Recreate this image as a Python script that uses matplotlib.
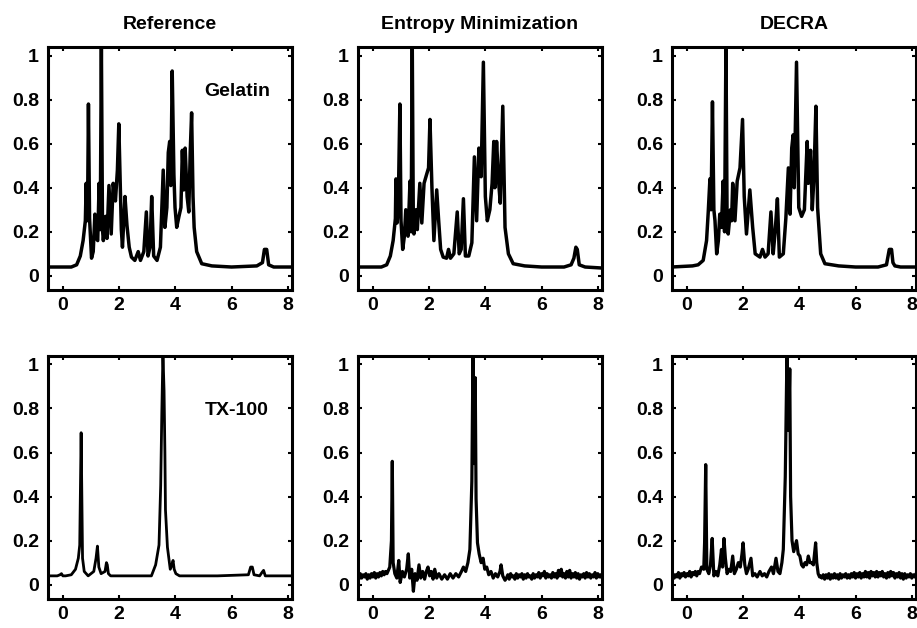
import matplotlib
matplotlib.use("Agg")
import matplotlib.pyplot as plt

plt.rcParams['font.family'] = ['Liberation Sans', 'DejaVu Sans']
plt.rcParams['font.weight'] = 'bold'

titulos = ['Reference', 'Entropy Minimization', 'DECRA']
etiquetas_fila = ['Gelatin', 'TX-100']
etiqueta_y = [0.835, 0.79]

# Gelatina - espectro de referencia (ppm, intensidad)
gel_ref_x = [-0.55, 0.30, 0.49, 0.62, 0.72, 0.80, 0.83, 0.86, 0.88, 0.91, 0.95, 1.02, 1.08, 1.14,
             1.19, 1.24, 1.29, 1.33, 1.37, 1.41, 1.44, 1.52, 1.57, 1.64, 1.72, 1.79, 1.87, 1.94,
             1.99, 2.05, 2.08, 2.12, 2.21, 2.28, 2.36, 2.44, 2.56, 2.68, 2.76, 2.88, 2.97, 3.03,
             3.10, 3.16, 3.23, 3.35, 3.47, 3.57, 3.63, 3.70, 3.75, 3.80, 3.84, 3.89, 3.95, 3.99,
             4.05, 4.13, 4.20, 4.25, 4.30, 4.35, 4.42, 4.48, 4.53, 4.58, 4.63, 4.67, 4.76, 4.94,
             5.30, 6.00, 6.90, 7.10, 7.17, 7.25, 7.32, 7.50, 8.20]
gel_ref_y = [0.04, 0.04, 0.05, 0.09, 0.16, 0.25, 0.42, 0.25, 0.31, 0.78, 0.26, 0.08, 0.11, 0.28,
             0.17, 0.16, 0.42, 0.21, 1.05, 0.21, 0.16, 0.27, 0.17, 0.41, 0.19, 0.42, 0.34, 0.48,
             0.69, 0.37, 0.21, 0.13, 0.36, 0.23, 0.13, 0.085, 0.07, 0.11, 0.07, 0.11, 0.29, 0.09,
             0.13, 0.36, 0.09, 0.07, 0.13, 0.48, 0.22, 0.31, 0.56, 0.61, 0.41, 0.93, 0.46, 0.31,
             0.22, 0.27, 0.31, 0.57, 0.39, 0.58, 0.36, 0.29, 0.56, 0.74, 0.36, 0.22, 0.11, 0.055,
             0.045, 0.04, 0.045, 0.06, 0.12, 0.12, 0.05, 0.04, 0.04]

# Gelatina - minimizacion de entropia
gel_em_x = [-0.55, 0.30, 0.49, 0.62, 0.72, 0.80, 0.82, 0.86, 0.90, 0.96, 1.00, 1.06, 1.12, 1.17,
            1.25, 1.32, 1.36, 1.40, 1.44, 1.46, 1.53, 1.58, 1.67, 1.74, 1.82, 1.91, 1.98, 2.03,
            2.10, 2.17, 2.27, 2.34, 2.41, 2.50, 2.62, 2.69, 2.76, 2.88, 3.00, 3.07, 3.14, 3.22,
            3.29, 3.41, 3.52, 3.61, 3.69, 3.77, 3.85, 3.93, 4.00, 4.07, 4.16, 4.24, 4.30, 4.34,
            4.40, 4.47, 4.53, 4.62, 4.70, 4.82, 4.99, 5.40, 6.00, 6.80, 7.05, 7.15, 7.22, 7.27,
            7.34, 7.55, 8.20]
gel_em_y = [0.04, 0.04, 0.05, 0.09, 0.16, 0.26, 0.44, 0.24, 0.30, 0.78, 0.25, 0.12, 0.18, 0.30,
            0.18, 0.43, 0.20, 1.05, 0.20, 0.19, 0.30, 0.21, 0.42, 0.24, 0.42, 0.46, 0.49, 0.71,
            0.40, 0.16, 0.39, 0.25, 0.12, 0.085, 0.08, 0.12, 0.08, 0.10, 0.29, 0.10, 0.12, 0.35,
            0.09, 0.09, 0.15, 0.54, 0.25, 0.58, 0.45, 0.97, 0.36, 0.25, 0.30, 0.42, 0.61, 0.40,
            0.61, 0.43, 0.33, 0.77, 0.22, 0.10, 0.055, 0.045, 0.04, 0.04, 0.05, 0.08, 0.13, 0.12,
            0.05, 0.04, 0.035]

# Gelatina - DECRA
gel_dec_x = [-0.55, 0.20, 0.40, 0.58, 0.70, 0.76, 0.82, 0.86, 0.91, 0.96, 1.00, 1.06, 1.12, 1.17,
             1.23, 1.29, 1.34, 1.39, 1.43, 1.47, 1.55, 1.59, 1.63, 1.71, 1.79, 1.89, 1.98, 2.04,
             2.12, 2.24, 2.34, 2.43, 2.60, 2.69, 2.78, 2.89, 2.99, 3.07, 3.14, 3.22, 3.29, 3.43,
             3.52, 3.61, 3.67, 3.73, 3.78, 3.82, 3.90, 3.98, 4.08, 4.18, 4.28, 4.32, 4.40, 4.46,
             4.52, 4.59, 4.65, 4.76, 4.91, 5.40, 6.00, 6.80, 7.10, 7.20, 7.28, 7.33, 7.40, 7.60, 8.20]
gel_dec_y = [0.04, 0.045, 0.05, 0.07, 0.16, 0.29, 0.44, 0.30, 0.79, 0.30, 0.25, 0.10, 0.16, 0.28,
             0.22, 0.43, 0.20, 1.05, 0.26, 0.19, 0.30, 0.25, 0.42, 0.25, 0.43, 0.49, 0.71, 0.36,
             0.19, 0.39, 0.22, 0.10, 0.085, 0.12, 0.085, 0.10, 0.29, 0.10, 0.20, 0.35, 0.085, 0.10,
             0.26, 0.49, 0.28, 0.58, 0.64, 0.40, 0.97, 0.31, 0.27, 0.30, 0.61, 0.42, 0.57, 0.30,
             0.45, 0.77, 0.31, 0.10, 0.055, 0.045, 0.04, 0.04, 0.05, 0.12, 0.12, 0.06, 0.045, 0.04, 0.04]

# TX-100 - espectro de referencia
tx_ref_x = [-0.55, -0.20, -0.10, -0.05, 0.00, 0.10, 0.30, 0.45, 0.55, 0.60, 0.65, 0.70, 0.76,
            0.90, 1.10, 1.18, 1.23, 1.28, 1.36, 1.50, 1.55, 1.58, 1.62, 1.70, 2.20, 3.15, 3.30,
            3.42, 3.48, 3.52, 3.56, 3.60, 3.63, 3.65, 3.72, 3.82, 3.88, 3.92, 3.96, 4.02, 4.15,
            4.40, 5.50, 6.60, 6.68, 6.74, 6.80, 7.00, 7.08, 7.14, 7.20, 8.20]
tx_ref_y = [0.04, 0.04, 0.045, 0.05, 0.04, 0.04, 0.045, 0.07, 0.12, 0.18, 0.69, 0.12, 0.06,
            0.04, 0.06, 0.12, 0.175, 0.08, 0.05, 0.06, 0.10, 0.09, 0.05, 0.04, 0.04, 0.04, 0.09,
            0.18, 0.45, 0.78, 1.05, 0.88, 0.60, 0.34, 0.17, 0.07, 0.09, 0.11, 0.07, 0.05, 0.04,
            0.04, 0.04, 0.045, 0.08, 0.08, 0.045, 0.04, 0.055, 0.065, 0.04, 0.04]

# TX-100 - minimizacion de entropia
tx_em_x = [-0.55, -0.50, -0.45, -0.40, -0.35, -0.30, -0.25, -0.20, -0.15, -0.10, -0.05, 0.00,
           0.05, 0.10, 0.15, 0.20, 0.25, 0.30, 0.35, 0.40, 0.45, 0.50, 0.55, 0.60,
           0.66, 0.69, 0.72, 0.78, 0.85, 0.92, 0.97, 1.05, 1.12, 1.20, 1.26, 1.31, 1.38, 1.44,
           1.50, 1.57, 1.64, 1.70, 1.77, 1.84, 1.90, 1.96, 2.02, 2.08, 2.14, 2.20, 2.27, 2.35,
           2.45, 2.55, 2.65, 2.75, 2.85, 2.95, 3.05, 3.15, 3.22, 3.30, 3.38, 3.45, 3.52, 3.56,
           3.60, 3.64, 3.67, 3.72, 3.78, 3.85, 3.92, 3.98, 4.05, 4.12, 4.20, 4.28, 4.36, 4.44,
           4.52, 4.56, 4.62, 4.70,
           4.75, 4.80, 4.85, 4.90, 4.95, 5.00, 5.05, 5.10, 5.15, 5.20,
           5.25, 5.30, 5.35, 5.40, 5.45, 5.50, 5.55, 5.60, 5.65, 5.70,
           5.75, 5.80, 5.85, 5.90, 5.95, 6.00, 6.05, 6.10, 6.15, 6.20,
           6.25, 6.30, 6.35, 6.40, 6.45, 6.50, 6.55, 6.60, 6.65, 6.70,
           6.75, 6.80, 6.85, 6.90, 6.95, 7.00, 7.05, 7.10, 7.15, 7.20,
           7.25, 7.30, 7.35, 7.40, 7.45, 7.50, 7.55, 7.60, 7.65, 7.70,
           7.75, 7.80, 7.85, 7.90, 7.95, 8.00, 8.05, 8.10, 8.15, 8.20]
tx_em_y = [0.04, 0.025, 0.05, 0.03, 0.045, 0.035, 0.05, 0.025, 0.045, 0.03, 0.05, 0.035,
           0.055, 0.03, 0.05, 0.035, 0.055, 0.04, 0.06, 0.045, 0.06, 0.05, 0.065, 0.08,
           0.20, 0.56, 0.10, 0.05, 0.03, 0.11, 0.01, 0.06, 0.035, 0.07, 0.14, 0.03, 0.07, -0.03,
           0.05, 0.02, 0.09, 0.03, 0.06, 0.025, 0.06, 0.08, 0.04, 0.06, 0.025, 0.07, 0.03, 0.05,
           0.025, 0.045, 0.025, 0.05, 0.03, 0.05, 0.035, 0.06, 0.08, 0.06, 0.10, 0.16, 0.47, 1.05,
           0.55, 0.94, 0.39, 0.19, 0.14, 0.10, 0.12, 0.07, 0.08, 0.045, 0.06, 0.03, 0.05, 0.035,
           0.06, 0.09, 0.04, 0.02,
           0.03, 0.045, 0.025, 0.05, 0.035, 0.04, 0.025, 0.05, 0.03, 0.045,
           0.035, 0.05, 0.025, 0.045, 0.03, 0.05, 0.035, 0.04, 0.025, 0.05,
           0.03, 0.045, 0.035, 0.055, 0.03, 0.05, 0.04, 0.06, 0.03, 0.05,
           0.035, 0.045, 0.03, 0.055, 0.035, 0.05, 0.03, 0.065, 0.04, 0.07,
           0.035, 0.05, 0.03, 0.06, 0.035, 0.065, 0.03, 0.05, 0.035, 0.055,
           0.03, 0.05, 0.025, 0.045, 0.035, 0.05, 0.03, 0.055, 0.035, 0.05,
           0.03, 0.045, 0.035, 0.055, 0.03, 0.05, 0.035, 0.045, 0.03, 0.04]

# TX-100 - DECRA
tx_dec_x = [-0.55, -0.50, -0.45, -0.40, -0.35, -0.30, -0.25, -0.20, -0.15, -0.10, -0.05, 0.00,
            0.05, 0.10, 0.15, 0.20, 0.25, 0.30, 0.35, 0.40, 0.45, 0.52, 0.60,
            0.63, 0.67, 0.71, 0.78, 0.84, 0.90, 0.96, 1.03, 1.10, 1.17, 1.23, 1.27, 1.32, 1.37,
            1.43, 1.50, 1.56, 1.63, 1.69, 1.76, 1.83, 1.90, 1.96, 2.00, 2.06, 2.12, 2.18, 2.28,
            2.34, 2.42, 2.50, 2.60, 2.68, 2.76, 2.84, 2.92, 3.01, 3.08, 3.17, 3.24, 3.31, 3.38,
            3.43, 3.50, 3.56, 3.62, 3.66, 3.69, 3.74, 3.80, 3.86, 3.90, 3.96, 4.02, 4.08, 4.14,
            4.20, 4.26, 4.32, 4.38, 4.44, 4.50, 4.55, 4.58, 4.62, 4.67, 4.72,
            4.75, 4.80, 4.85, 4.90, 4.95, 5.00, 5.05, 5.10, 5.15, 5.20,
            5.25, 5.30, 5.35, 5.40, 5.45, 5.50, 5.55, 5.60, 5.65, 5.70,
            5.75, 5.80, 5.85, 5.90, 5.95, 6.00, 6.05, 6.10, 6.15, 6.20,
            6.25, 6.30, 6.35, 6.40, 6.45, 6.50, 6.55, 6.60, 6.65, 6.70,
            6.75, 6.80, 6.85, 6.90, 6.95, 7.00, 7.05, 7.10, 7.15, 7.20,
            7.25, 7.30, 7.35, 7.40, 7.45, 7.50, 7.55, 7.60, 7.65, 7.70,
            7.75, 7.80, 7.85, 7.90, 7.95, 8.00, 8.05, 8.10, 8.15, 8.20]
tx_dec_y = [0.035, 0.05, 0.03, 0.045, 0.035, 0.055, 0.03, 0.05, 0.04, 0.055, 0.035, 0.05,
            0.04, 0.06, 0.035, 0.055, 0.045, 0.06, 0.04, 0.06, 0.05, 0.08, 0.07,
            0.19, 0.545, 0.07, 0.05, 0.09, 0.21, 0.04, 0.06, 0.04, 0.09, 0.16, 0.08, 0.21, 0.12,
            0.05, 0.07, 0.06, 0.13, 0.05, 0.07, 0.10, 0.08, 0.14, 0.19, 0.09, 0.05, 0.07, 0.12,
            0.04, 0.05, 0.035, 0.06, 0.04, 0.05, 0.035, 0.06, 0.08, 0.05, 0.12, 0.06, 0.05, 0.10,
            0.16, 0.49, 1.05, 0.70, 0.98, 0.40, 0.20, 0.15, 0.18, 0.20, 0.14, 0.13, 0.09, 0.08,
            0.10, 0.09, 0.13, 0.10, 0.10, 0.09, 0.15, 0.19, 0.10, 0.05, 0.035,
            0.04, 0.03, 0.045, 0.025, 0.045, 0.03, 0.05, 0.025, 0.045, 0.03,
            0.05, 0.03, 0.045, 0.025, 0.05, 0.03, 0.045, 0.035, 0.05, 0.03,
            0.045, 0.03, 0.05, 0.035, 0.055, 0.03, 0.05, 0.035, 0.055, 0.03,
            0.05, 0.035, 0.06, 0.035, 0.055, 0.03, 0.06, 0.04, 0.055, 0.035,
            0.06, 0.035, 0.055, 0.04, 0.06, 0.035, 0.05, 0.03, 0.055, 0.035,
            0.06, 0.04, 0.055, 0.03, 0.05, 0.035, 0.055, 0.03, 0.05, 0.025,
            0.05, 0.03, 0.045, 0.035, 0.05, 0.03, 0.045, 0.035, 0.05, 0.04]

espectros = [[(gel_ref_x, gel_ref_y), (gel_em_x, gel_em_y), (gel_dec_x, gel_dec_y)],
             [(tx_ref_x, tx_ref_y), (tx_em_x, tx_em_y), (tx_dec_x, tx_dec_y)]]
grosores = [[2.5, 2.5, 2.5], [2.0, 2.3, 2.3]]

xticks = [0, 2, 4, 6, 8]
yticks = [0, 0.2, 0.4, 0.6, 0.8, 1]
ytick_labels = ['0', '0.2', '0.4', '0.6', '0.8', '1']

fig = plt.figure(figsize=(9.17, 6.28), dpi=100)
izquierdas = [0.0523, 0.3904, 0.7328]
abajos = [0.538, 0.0462]

for fila in range(2):
    for col in range(3):
        ax = fig.add_axes([izquierdas[col], abajos[fila], 0.2661, 0.3875])
        xs, ys = espectros[fila][col]
        ax.plot(xs, ys, color='black', linewidth=grosores[fila][col], solid_joinstyle='round')
        ax.set_xlim(-0.53, 8.15)
        ax.set_ylim(-0.065, 1.04)
        ax.set_xticks(xticks)
        ax.set_xticklabels([str(t) for t in xticks])
        ax.set_yticks(yticks)
        ax.set_yticklabels(ytick_labels)
        ax.tick_params(direction='in', top=True, right=True, length=3, width=1.5,
                       labelsize=14)
        ax.tick_params(axis='y', pad=6.5)
        ax.tick_params(axis='x', pad=5)
        for lab in ax.get_xticklabels() + ax.get_yticklabels():
            lab.set_fontweight('bold')
        for s in ax.spines.values():
            s.set_linewidth(2.2)
        if fila == 0:
            ax.set_title(titulos[col], fontsize=14, fontweight='bold', pad=13)
        if col == 0:
            ax.text(6.2, etiqueta_y[fila], etiquetas_fila[fila], fontsize=14, fontweight='bold',
                    ha='center', va='center')

fig.savefig('out.png', dpi=100)
